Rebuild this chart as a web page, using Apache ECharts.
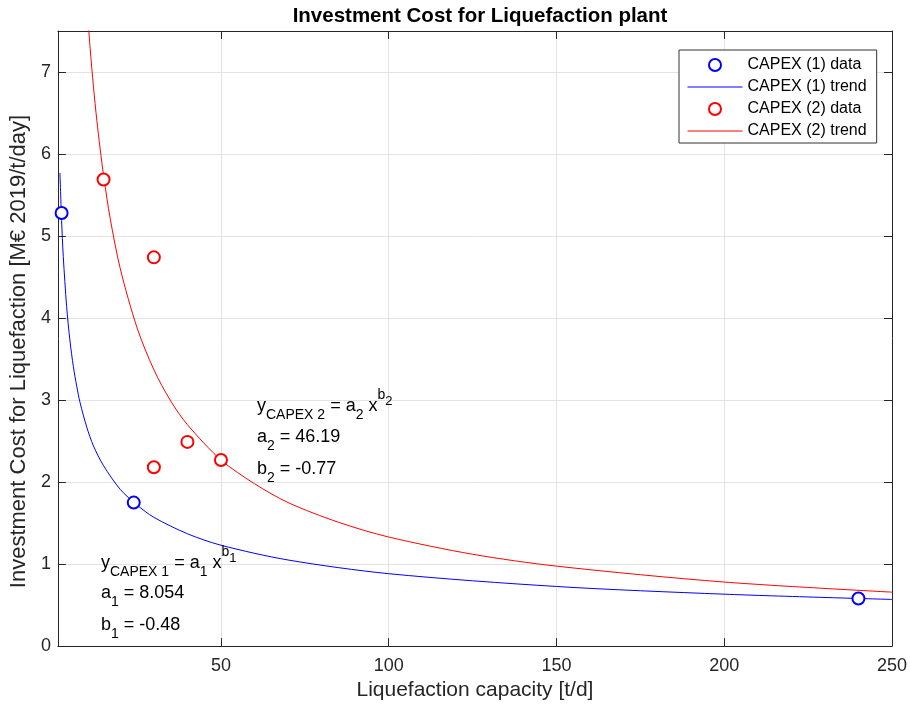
<!DOCTYPE html>
<html>
<head>
<meta charset="utf-8">
<title>Investment Cost for Liquefaction plant</title>
<script src="https://cdn.jsdelivr.net/npm/echarts@6/dist/echarts.min.js"></script>
<style>
  html, body { margin: 0; padding: 0; background: #fff; }
  #main { width: 910px; height: 706px; }
</style>
</head>
<body>
<div id="main"></div>
<script>
// data
const capex1X = [2.5, 24, 240];
const capex1Y = [5.28, 1.75, 0.58];
const capex2X = [15, 30, 30, 40, 50];
const capex2Y = [5.69, 4.74, 2.18, 2.49, 2.27];

// trend curves
const trend1X = [2, 2.5, 3, 4, 5, 6, 7, 8, 10, 12, 15, 20, 25, 30, 40, 50, 70, 100, 150, 200, 250];
const trend1Y = [5.77, 5.19, 4.75, 4.14, 3.72, 3.41, 3.17, 2.97, 2.67, 2.44, 2.20, 1.91, 1.72, 1.57, 1.37, 1.23, 1.05, 0.883, 0.727, 0.633, 0.569];
const trend2X = [10, 11, 12, 13, 14, 15, 17, 20, 25, 30, 35, 40, 50, 60, 70, 85, 100, 125, 150, 200, 250];
const trend2Y = [7.85, 7.29, 6.82, 6.41, 6.06, 5.74, 5.21, 4.60, 3.88, 3.37, 2.99, 2.70, 2.27, 1.98, 1.75, 1.51, 1.33, 1.12, 0.975, 0.781, 0.658];

const xTicks = [50, 100, 150, 200, 250];
const seriesNames = ['CAPEX (1) data', 'CAPEX (1) trend', 'CAPEX (2) data', 'CAPEX (2) trend'];

function pairs(xs, ys) {
  return xs.map(function (x, i) { return [x, ys[i]]; });
}

const FONT = '"Liberation Sans", Arial, Helvetica, sans-serif';
const AXIS_COLOR = '#262626';
const GRID_COLOR = '#e3e3e3';

// rich text line: all tokens top aligned, shifted with padding
const rich = {
  m: { fontSize: 18, fontFamily: FONT, color: '#000', lineHeight: 20, padding: [10, 0, 0, 0], verticalAlign: 'top' },
  s: { fontSize: 14, fontFamily: FONT, color: '#000', lineHeight: 14, padding: [21, 0, 0, 0], verticalAlign: 'top' },
  p: { fontSize: 14, fontFamily: FONT, color: '#000', lineHeight: 14, padding: [1, 0, 0, 0], verticalAlign: 'top' },
  ps: { fontSize: 13, fontFamily: FONT, color: '#000', lineHeight: 14, padding: [8, 0, 0, 0], verticalAlign: 'top' }
};

function note(x, y, text) {
  return {
    type: 'text',
    left: x,
    top: y,
    z: 100,
    style: { text: text, rich: rich, fontFamily: FONT, fontSize: 18, fill: '#000' }
  };
}

const chart = echarts.init(document.getElementById('main'));

const option = {
  backgroundColor: '#fff',
  animation: false,
  title: {
    text: 'Investment Cost for Liquefaction plant',
    left: 475,
    textAlign: 'center',
    top: 1,
    textStyle: { fontFamily: FONT, fontSize: 20.5, fontWeight: 'bold', color: '#000' }
  },
  legend: {
    orient: 'vertical',
    left: 679,
    top: 50,
    data: [
      { name: seriesNames[0] },
      { name: seriesNames[1], itemStyle: { opacity: 0 } },
      { name: seriesNames[2] },
      { name: seriesNames[3], itemStyle: { opacity: 0 } }
    ],
    itemWidth: 55,
    itemHeight: 12,
    itemGap: 4,
    itemTextGap: 6,
    padding: [6, 10, 3, 8],
    borderColor: '#333',
    borderWidth: 1,
    backgroundColor: '#fff',
    selectedMode: false,
    lineStyle: { width: 1 },
    textStyle: { fontFamily: FONT, fontSize: 16, color: '#000', lineHeight: 18 }
  },
  grid: { left: 57, top: 31, right: 18, bottom: 59, containLabel: false },
  xAxis: [{
    type: 'value',
    min: 1.4,
    max: 250,
    name: 'Liquefaction capacity [t/d]',
    nameLocation: 'middle',
    nameGap: 23,
    nameTextStyle: { fontFamily: FONT, fontSize: 21, color: AXIS_COLOR },
    axisLine: { show: true, onZero: false, lineStyle: { color: AXIS_COLOR, width: 1 } },
    axisTick: { show: true, inside: true, length: 8, customValues: xTicks, lineStyle: { color: AXIS_COLOR } },
    axisLabel: { customValues: xTicks, margin: 11, fontFamily: FONT, fontSize: 18, color: AXIS_COLOR },
    splitLine: { show: true, lineStyle: { color: GRID_COLOR, width: 1 } }
  }, {
    type: 'value',
    position: 'top',
    min: 1.4,
    max: 250,
    axisLine: { show: true, onZero: false, lineStyle: { color: AXIS_COLOR, width: 1 } },
    axisTick: { show: true, inside: true, length: 8, customValues: xTicks, lineStyle: { color: AXIS_COLOR } },
    axisLabel: { show: false },
    splitLine: { show: false }
  }],
  yAxis: [{
    type: 'value',
    min: 0,
    max: 7.5,
    interval: 1,
    name: 'Investment Cost for Liquefaction [M€ 2019/t/day]',
    nameLocation: 'middle',
    nameGap: 24,
    nameTextStyle: { fontFamily: FONT, fontSize: 22, color: AXIS_COLOR, padding: [0, 26, 0, 0] },
    axisLine: { show: true, onZero: false, lineStyle: { color: AXIS_COLOR, width: 1 } },
    axisTick: { show: true, inside: true, length: 8, lineStyle: { color: AXIS_COLOR } },
    axisLabel: { margin: 7, fontFamily: FONT, fontSize: 18, color: AXIS_COLOR, showMaxLabel: false },
    splitLine: { show: true, lineStyle: { color: GRID_COLOR, width: 1 } }
  }, {
    type: 'value',
    position: 'right',
    min: 0,
    max: 7.5,
    interval: 1,
    axisLine: { show: true, onZero: false, lineStyle: { color: AXIS_COLOR, width: 1 } },
    axisTick: { show: true, inside: true, length: 8, lineStyle: { color: AXIS_COLOR } },
    axisLabel: { show: false },
    splitLine: { show: false }
  }],
  series: [{
    name: seriesNames[0],
    type: 'scatter',
    data: pairs(capex1X, capex1Y),
    symbol: 'emptyCircle',
    symbolSize: 12,
    itemStyle: { color: '#0000ff', borderColor: '#0000ff', borderWidth: 1.6, opacity: 1 },
    z: 5
  }, {
    name: seriesNames[1],
    type: 'line',
    data: pairs(trend1X, trend1Y),
    symbol: 'none',
    showSymbol: false,
    smooth: 0.3,
    clip: true,
    lineStyle: { color: '#0000ff', width: 1 },
    itemStyle: { color: '#0000ff' }
  }, {
    name: seriesNames[2],
    type: 'scatter',
    data: pairs(capex2X, capex2Y),
    symbol: 'emptyCircle',
    symbolSize: 12,
    itemStyle: { color: '#ff0000', borderColor: '#ff0000', borderWidth: 1.6, opacity: 1 },
    z: 5
  }, {
    name: seriesNames[3],
    type: 'line',
    data: pairs(trend2X, trend2Y),
    symbol: 'none',
    showSymbol: false,
    smooth: 0.3,
    clip: true,
    lineStyle: { color: '#ff0000', width: 1 },
    itemStyle: { color: '#ff0000' }
  }],
  graphic: [
    note(257, 387, '{m|y}{s|CAPEX 2}{m| = a}{s|2}{m| x}{p|b}{ps|2}'),
    note(257, 418, '{m|a}{s|2}{m| = 46.19}'),
    note(257, 450, '{m|b}{s|2}{m| = -0.77}'),
    note(101, 544, '{m|y}{s|CAPEX 1}{m| = a}{s|1}{m| x}{p|b}{ps|1}'),
    note(101, 574, '{m|a}{s|1}{m| = 8.054}'),
    note(101, 606, '{m|b}{s|1}{m| = -0.48}')
  ]
};

chart.setOption(option);
</script>
</body>
</html>
